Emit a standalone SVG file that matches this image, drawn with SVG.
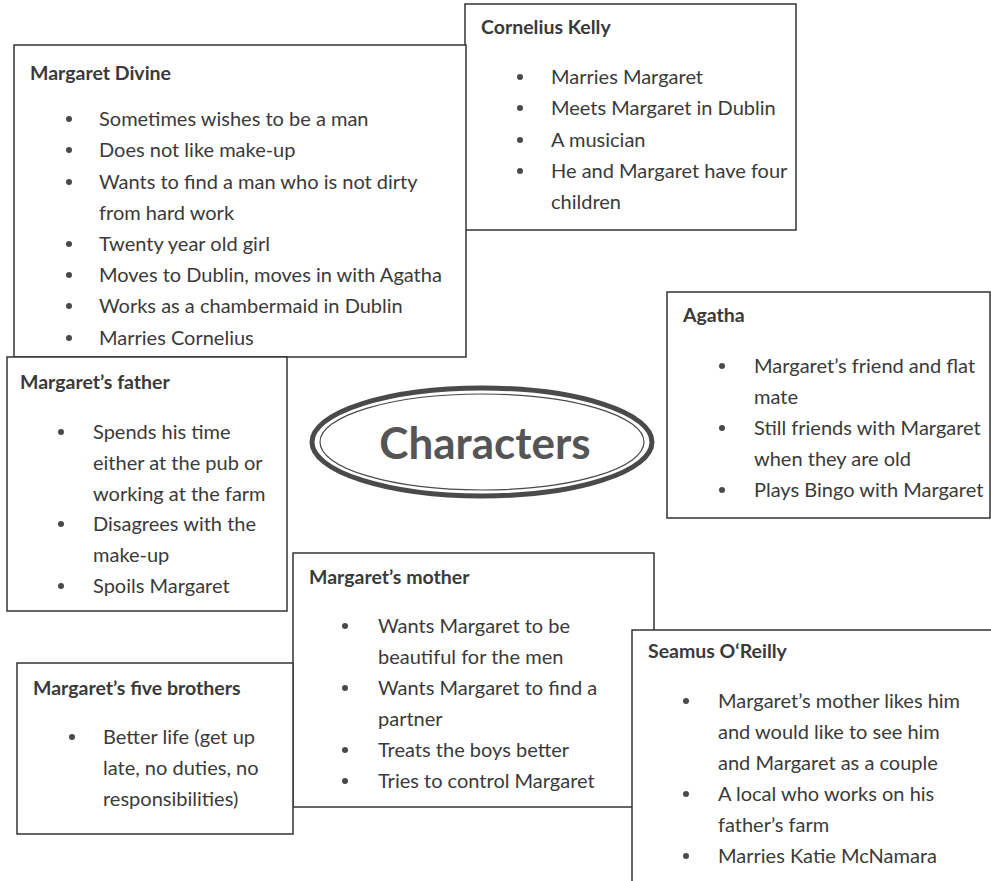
<svg xmlns="http://www.w3.org/2000/svg" width="991" height="881" viewBox="0 0 991 881">
<style>
.box{fill:#fff;stroke:#333;stroke-width:1.5}
.h{font-family:Lato,"Liberation Sans",sans-serif;font-weight:bold;font-size:19.5px;fill:#3a3a3a}
.t{font-family:Lato,"Liberation Sans",sans-serif;font-size:20px;fill:#3a3a3a}
.d{fill:#4a4a4a}
.title{font-family:Lato,"Liberation Sans",sans-serif;font-weight:bold;font-size:44px;fill:#555;text-anchor:middle}
</style>
<rect width="991" height="881" fill="#fff"/>
<g id="cornelius">
<rect class="box" x="465" y="4" width="331" height="226"/>
<text class="h" x="481" y="34">Cornelius Kelly</text>
<circle class="d" cx="520" cy="77" r="3"/><text class="t" x="551" y="84">Marries Margaret</text>
<circle class="d" cx="520" cy="108" r="3"/><text class="t" x="551" y="115">Meets Margaret in Dublin</text>
<circle class="d" cx="520" cy="140" r="3"/><text class="t" x="551" y="147">A musician</text>
<circle class="d" cx="520" cy="171" r="3"/><text class="t" x="551" y="178">He and Margaret have four</text>
<text class="t" x="551" y="209">children</text>
</g>
<g id="divine">
<rect class="box" x="14" y="45" width="452" height="312"/>
<text class="h" x="30" y="80">Margaret Divine</text>
<circle class="d" cx="69" cy="119" r="3"/><text class="t" x="99" y="126">Sometimes wishes to be a man</text>
<circle class="d" cx="69" cy="150" r="3"/><text class="t" x="99" y="157">Does not like make-up</text>
<circle class="d" cx="69" cy="182" r="3"/><text class="t" x="99" y="189">Wants to find a man who is not dirty</text>
<text class="t" x="99" y="220">from hard work</text>
<circle class="d" cx="69" cy="244" r="3"/><text class="t" x="99" y="251">Twenty year old girl</text>
<circle class="d" cx="69" cy="275" r="3"/><text class="t" x="99" y="282">Moves to Dublin, moves in with Agatha</text>
<circle class="d" cx="69" cy="306" r="3"/><text class="t" x="99" y="313">Works as a chambermaid in Dublin</text>
<circle class="d" cx="69" cy="338" r="3"/><text class="t" x="99" y="345">Marries Cornelius</text>
</g>
<g id="father">
<rect class="box" x="7" y="357" width="280" height="254"/>
<text class="h" x="20" y="389">Margaret’s father</text>
<circle class="d" cx="61" cy="432" r="3"/><text class="t" x="93" y="439">Spends his time</text>
<text class="t" x="93" y="470">either at the pub or</text>
<text class="t" x="93" y="501">working at the farm</text>
<circle class="d" cx="61" cy="524" r="3"/><text class="t" x="93" y="531">Disagrees with the</text>
<text class="t" x="93" y="562">make-up</text>
<circle class="d" cx="61" cy="586" r="3"/><text class="t" x="93" y="593">Spoils Margaret</text>
</g>
<g id="characters">
<ellipse cx="482" cy="442" rx="170" ry="54" fill="none" stroke="#4a4a4a" stroke-width="5"/>
<ellipse cx="482" cy="442" rx="162" ry="48" fill="none" stroke="#4a4a4a" stroke-width="1.2"/>
<text class="title" x="485" y="459">Characters</text>
</g>
<g id="agatha">
<rect class="box" x="667" y="292" width="323" height="226"/>
<text class="h" x="683" y="322">Agatha</text>
<circle class="d" cx="722" cy="366" r="3"/><text class="t" x="754" y="373">Margaret’s friend and flat</text>
<text class="t" x="754" y="404">mate</text>
<circle class="d" cx="722" cy="428" r="3"/><text class="t" x="754" y="435">Still friends with Margaret</text>
<text class="t" x="754" y="466">when they are old</text>
<circle class="d" cx="722" cy="490" r="3"/><text class="t" x="754" y="497">Plays Bingo with Margaret</text>
</g>
<g id="mother">
<rect class="box" x="293" y="553" width="361" height="254"/>
<text class="h" x="309" y="584">Margaret’s mother</text>
<circle class="d" cx="345" cy="626" r="3"/><text class="t" x="378" y="633">Wants Margaret to be</text>
<text class="t" x="378" y="664">beautiful for the men</text>
<circle class="d" cx="345" cy="688" r="3"/><text class="t" x="378" y="695">Wants Margaret to find a</text>
<text class="t" x="378" y="726">partner</text>
<circle class="d" cx="345" cy="750" r="3"/><text class="t" x="378" y="757">Treats the boys better</text>
<circle class="d" cx="345" cy="781" r="3"/><text class="t" x="378" y="788">Tries to control Margaret</text>
</g>
<g id="seamus">
<rect class="box" x="632" y="630" width="370" height="260"/>
<text class="h" x="648" y="658">Seamus O‘Reilly</text>
<circle class="d" cx="686" cy="701" r="3"/><text class="t" x="718" y="708">Margaret’s mother likes him</text>
<text class="t" x="718" y="739">and would like to see him</text>
<text class="t" x="718" y="770">and Margaret as a couple</text>
<circle class="d" cx="686" cy="794" r="3"/><text class="t" x="718" y="801">A local who works on his</text>
<text class="t" x="718" y="832">father’s farm</text>
<circle class="d" cx="686" cy="856" r="3"/><text class="t" x="718" y="863">Marries Katie McNamara</text>
</g>
<g id="brothers">
<rect class="box" x="17" y="663" width="276" height="171"/>
<text class="h" x="33" y="695">Margaret’s five brothers</text>
<circle class="d" cx="72" cy="737" r="3"/><text class="t" x="103" y="744">Better life (get up</text>
<text class="t" x="103" y="775">late, no duties, no</text>
<text class="t" x="103" y="806">responsibilities)</text>
</g>
<g id="connectors"/>
</svg>
